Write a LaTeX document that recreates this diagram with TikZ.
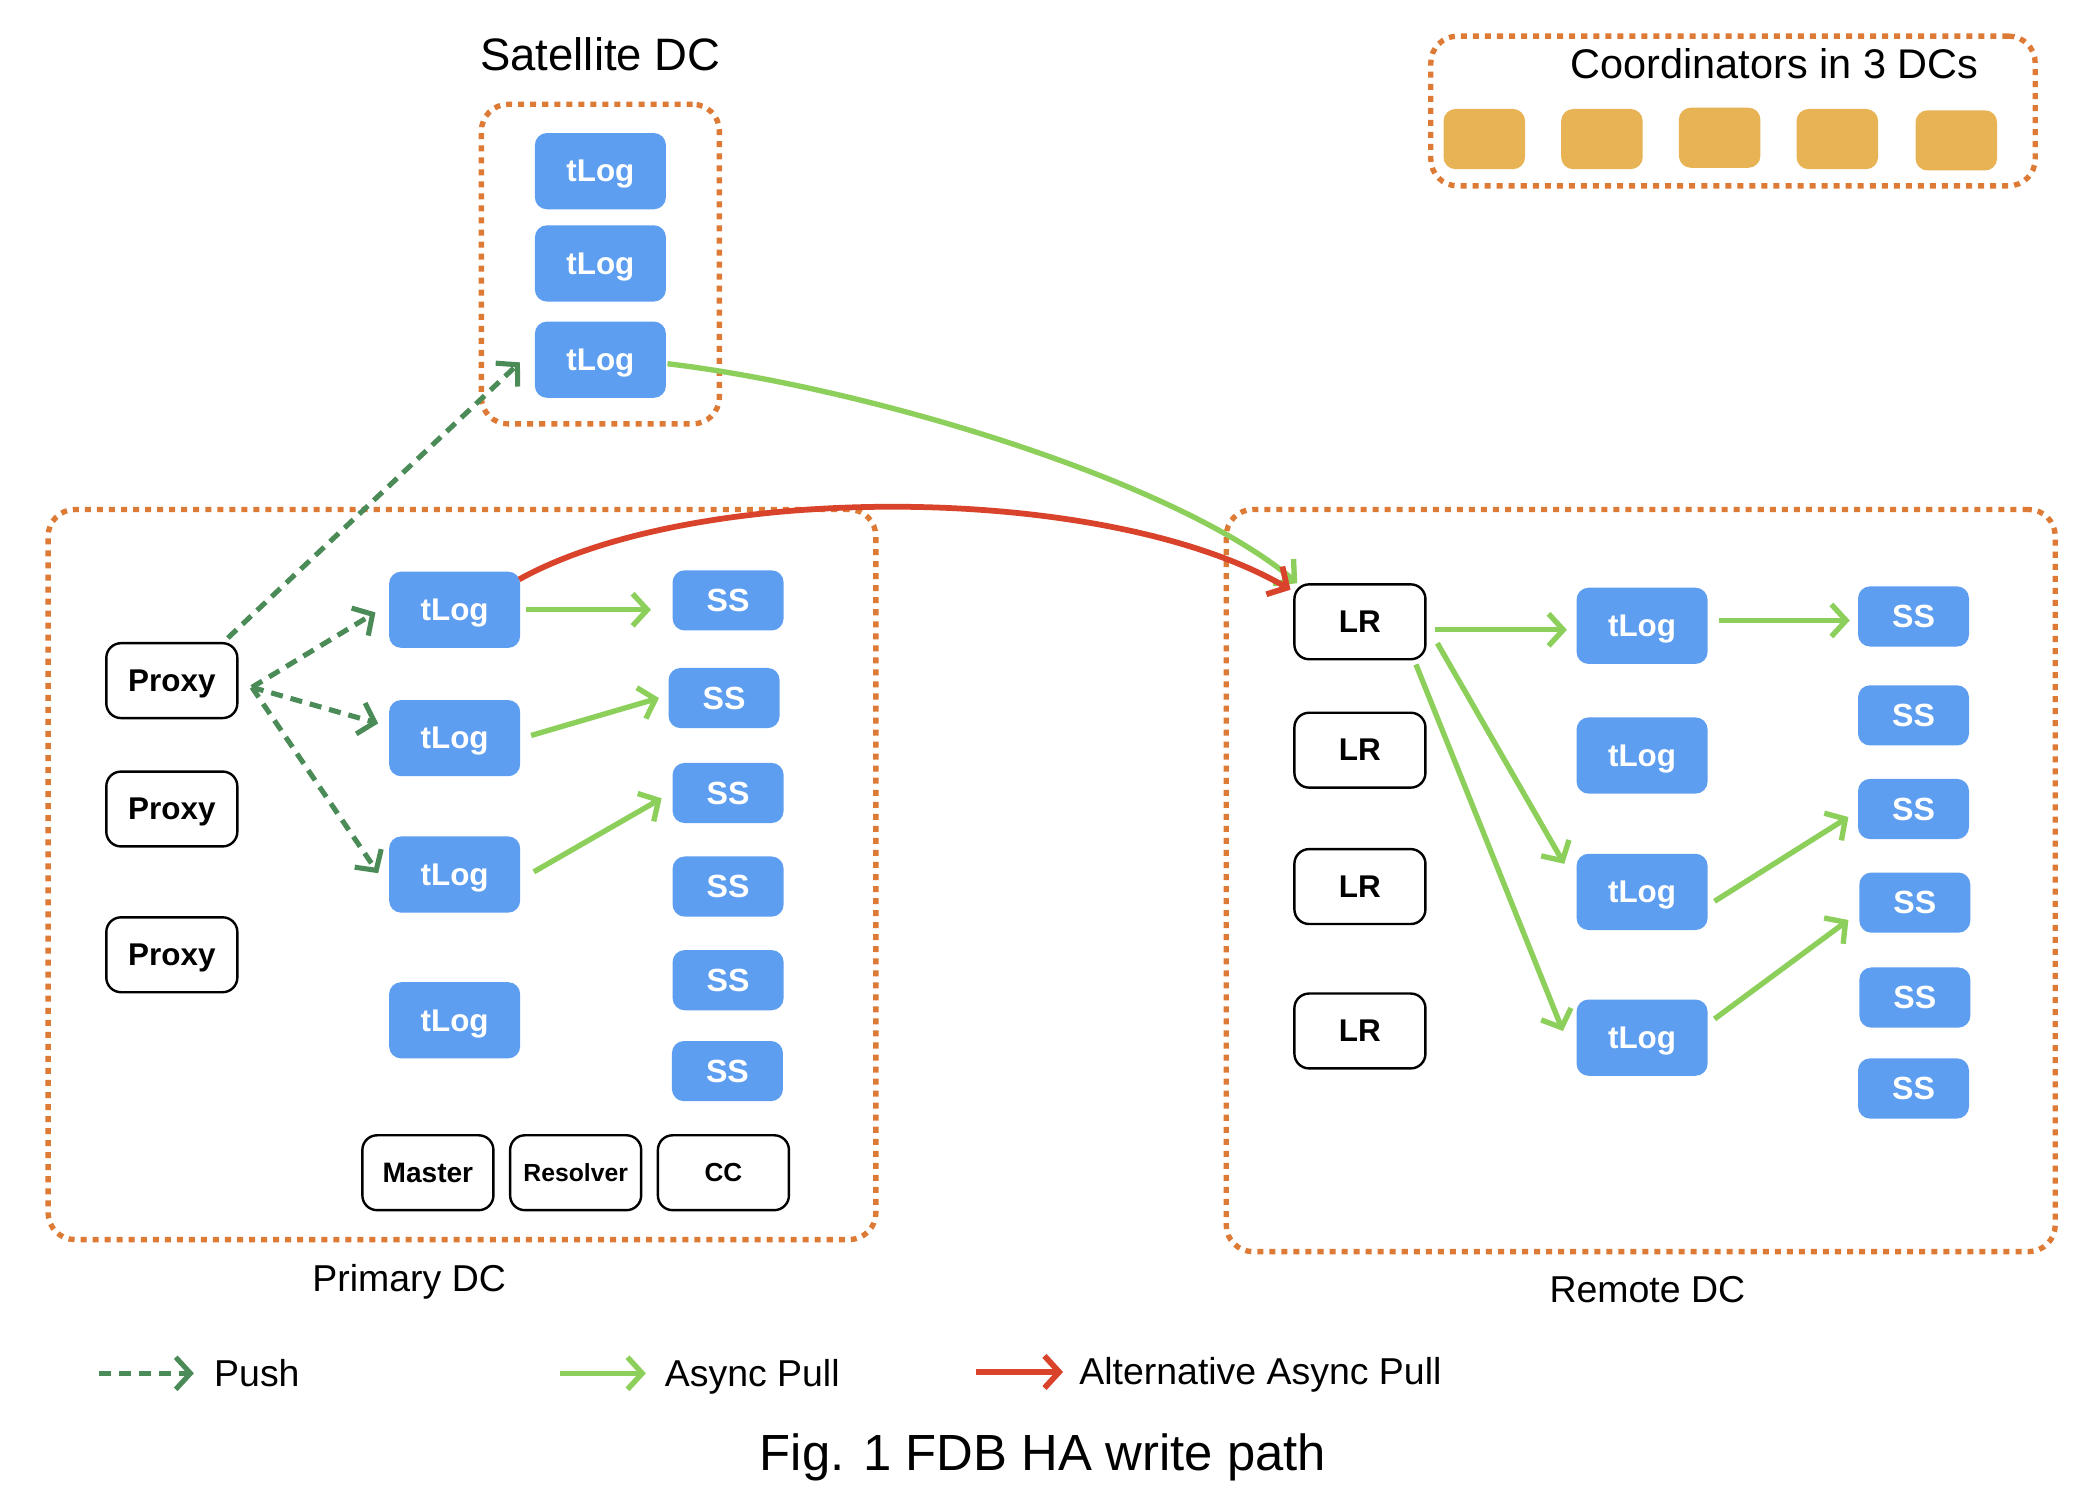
\documentclass[tikz,border=0pt]{standalone}
\usepackage{fontspec}
\setmainfont{Liberation Sans}
\usetikzlibrary{arrows.meta,calc}
\definecolor{tlblue}{RGB}{93,158,240}
\definecolor{corange}{RGB}{232,179,84}
\definecolor{dcorange}{RGB}{221,122,53}
\definecolor{pullgreen}{RGB}{140,207,90}
\definecolor{pushgreen}{RGB}{74,139,87}
\definecolor{altred}{RGB}{217,67,43}
\newcommand{\myfs}[1]{\fontsize{#1}{#1}\selectfont}
\begin{document}
\begin{tikzpicture}[x=1pt,y=-1pt,
  bluebox/.style={fill=tlblue, rounded corners=9pt, text=white, inner sep=0pt, text depth=0pt, font=\bfseries\myfs{23.5}},
  logbox/.style={bluebox, minimum width=98pt, minimum height=57pt},
  ssbox/.style={bluebox, minimum width=83pt, minimum height=45pt, font=\bfseries\myfs{24}},
  wbox/.style={draw=black, line width=1.8pt, fill=white, rounded corners=11pt, minimum width=98pt, minimum height=56pt, inner sep=0pt, text depth=0pt, font=\bfseries\myfs{23.5}},
  coordbox/.style={fill=corange, rounded corners=9pt, minimum width=61pt, minimum height=45pt, inner sep=0pt},
  dcbox/.style={draw=dcorange, line width=4pt, dash pattern=on 4.5pt off 4.5pt, rounded corners=20pt, inner sep=0pt},
  barbtip/.style={-{Straight Barb[length=11pt,width=24pt]}},
  push/.style={draw=pushgreen, line width=3.8pt, dash pattern=on 9pt off 6pt, barbtip},
  pull/.style={draw=pullgreen, line width=4pt, barbtip},
  alt/.style={draw=altred, line width=4.3pt, barbtip},
  title/.style={inner sep=0pt, anchor=base, font=\myfs{28}},
  legtext/.style={inner sep=0pt, anchor=base west, font=\myfs{28}},
]
\fill[white] (0,0) rectangle (1560,1117);
\path[use as bounding box] (0,0) rectangle (1560,1117);

% containers
\node[dcbox, minimum width=178pt, minimum height=239pt] (satdc) at (449,197.5) {};
\node[dcbox, minimum width=452pt, minimum height=112pt] (coorddc) at (1296,83) {};
\node[dcbox, minimum width=619pt, minimum height=546pt] (primdc) at (345.5,654) {};
\node[dcbox, minimum width=620pt, minimum height=555pt] (remdc) at (1227,658.5) {};

% titles
\node[title, font=\myfs{34}] (sattitle) at (449,53) {Satellite DC};
\node[title, font=\myfs{31}] (coordtitle) at (1327,59) {Coordinators in 3 DCs};
\node[title] (primtitle) at (306,966) {Primary DC};
\node[title] (remtitle) at (1232,974) {Remote DC};
\node[title, font=\myfs{38}] (figtitle) at (780,1100) {Fig. 1 FDB HA write path};

% coordinators
\node[coordbox] (c1) at (1110,104) {};
\node[coordbox] (c2) at (1198,104) {};
\node[coordbox] (c3) at (1286,103) {};
\node[coordbox] (c4) at (1374,104) {};
\node[coordbox] (c5) at (1463,105) {};

% satellite
\node[logbox] (s1) at (449,128) {tLog};
\node[logbox] (s2) at (449,197) {tLog};
\node[logbox] (s3) at (449,269) {tLog};

% primary
\node[wbox] (p1) at (128.5,509) {Proxy};
\node[wbox] (p2) at (128.5,605) {Proxy};
\node[wbox] (p3) at (128.5,714) {Proxy};
\node[logbox] (t1) at (340,456) {tLog};
\node[logbox] (t2) at (340,552) {tLog};
\node[logbox] (t3) at (340,654) {tLog};
\node[logbox] (t4) at (340,763) {tLog};
\node[ssbox] (ss1) at (544.5,449) {SS};
\node[ssbox] (ss2) at (541.5,522) {SS};
\node[ssbox] (ss3) at (544.5,593) {SS};
\node[ssbox] (ss4) at (544.5,663) {SS};
\node[ssbox] (ss5) at (544.5,733) {SS};
\node[ssbox] (ss6) at (544,801) {SS};
\node[wbox, font=\bfseries\myfs{21}] (master) at (320,877) {Master};
\node[wbox, font=\bfseries\myfs{18.5}] (resolver) at (430.5,877) {Resolver};
\node[wbox, font=\bfseries\myfs{19.5}] (cc) at (541,877) {CC};

% remote
\node[wbox] (lr1) at (1017,465) {LR};
\node[wbox] (lr2) at (1017,561) {LR};
\node[wbox] (lr3) at (1017,663) {LR};
\node[wbox] (lr4) at (1017,771) {LR};
\node[logbox] (rt1) at (1228,468) {tLog};
\node[logbox] (rt2) at (1228,565) {tLog};
\node[logbox] (rt3) at (1228,667) {tLog};
\node[logbox] (rt4) at (1228,776) {tLog};
\node[ssbox] (rs1) at (1431,461) {SS};
\node[ssbox] (rs2) at (1431,535) {SS};
\node[ssbox] (rs3) at (1431,605) {SS};
\node[ssbox] (rs4) at (1432,675) {SS};
\node[ssbox] (rs5) at (1432,746) {SS};
\node[ssbox] (rs6) at (1431,814) {SS};

% push arrows
\draw[push] ($(p1.north east)+(-8,-3)$) -- ($(s3.west)+(-11,2)$);
\draw[push] ($(p1.east)+(10,5)$) -- ($(t1.west)+(-10,2)$);
\draw[push] ($(p1.east)+(10,5)$) -- ($(t2.west)+(-8,-11)$);
\draw[push] ($(p1.east)+(10,5)$) -- ($(t3.west)+(-8,-1)$);

% primary pulls
\draw[pull] ($(t1.east)+(4,0)$) -- ($(ss1.west)+(-16,7)$);
\draw[pull] ($(t2.east)+(8,-2)$) -- ($(ss2.west)+(-7,0)$);
\draw[pull] ($(t3.east)+(10,-2)$) -- ($(ss3.west)+(-8,4)$);

% satellite to LR
\draw[pull] ($(s3.east)+(1,3)$) .. controls (650,290) and (880,360) .. ($(lr1.north west)+(3,0)$);
% alternative
\draw[alt] ($(t1.north east)+(-1,6)$) .. controls (520,360) and (825,360) .. ($(lr1.west)+(-2,-24)$);

% remote pulls
\draw[pull] ($(lr1.east)+(6,6)$) -- ($(rt1.west)+(-7,3)$);
\draw[pull] ($(rt1.east)+(8,-4)$) -- ($(rs1.west)+(-6,3)$);
\draw[pull] ($(lr1.east)+(8,16)$) -- ($(rt3.west)+(-9,-21)$);
\draw[pull] ($(lr1.south east)+(-8,3)$) -- ($(rt4.west)+(-10,-5)$);
\draw[pull] ($(rt3.east)+(5,7)$) -- ($(rs3.west)+(-7,6)$);
\draw[pull] ($(rt4.east)+(5,-14)$) -- ($(rs4.west)+(-8,13)$);

% legend
\coordinate (lpa) at (74,1027);
\coordinate (lpb) at (145,1027);
\coordinate (lga) at (419,1027);
\coordinate (lgb) at (483,1027);
\coordinate (lra) at (730,1026);
\coordinate (lrb) at (795,1026);
\draw[push] (lpa) -- (lpb);
\draw[pull] (lga) -- (lgb);
\draw[alt] (lra) -- (lrb);
\node[legtext] (legpush) at (160,1037) {Push};
\node[legtext] (legpull) at (497,1037) {Async Pull};
\node[legtext] (legalt) at (807,1035) {Alternative Async Pull};
\end{tikzpicture}
\end{document}
